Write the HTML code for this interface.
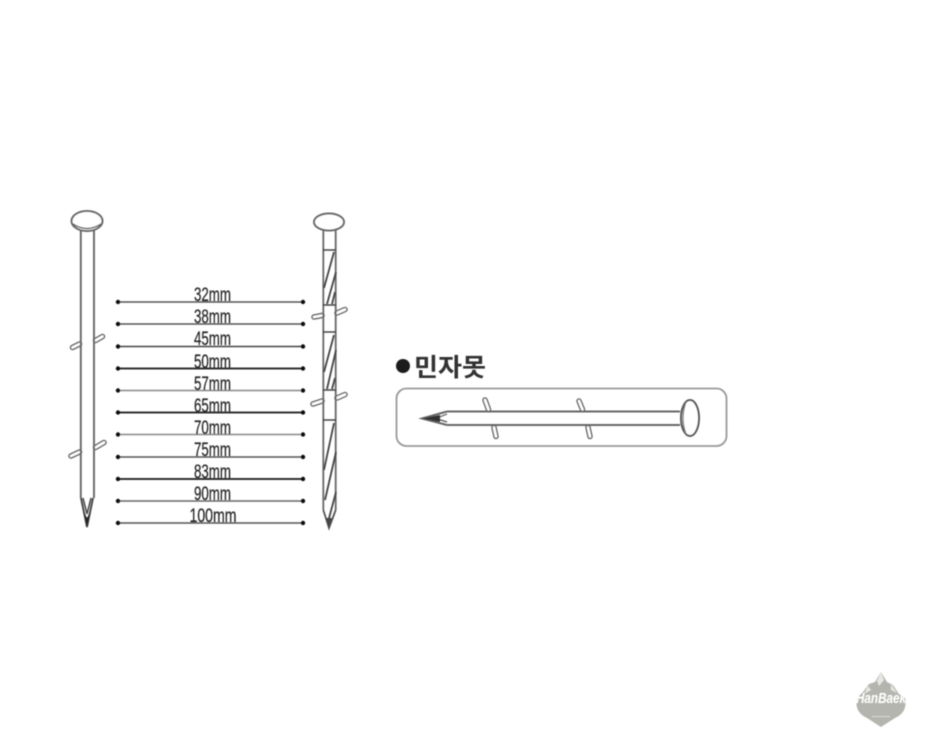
<!DOCTYPE html>
<html><head><meta charset="utf-8"><style>
html,body{margin:0;padding:0;background:#fff;width:941px;height:750px;overflow:hidden}
svg{display:block}
text{font-family:"Liberation Sans","Noto Sans CJK KR",sans-serif}
</style></head><body>
<svg width="941" height="750" viewBox="0 0 941 750" xmlns="http://www.w3.org/2000/svg">
<defs><filter id="b" x="-5%" y="-5%" width="110%" height="110%"><feGaussianBlur stdDeviation="0.6"/></filter></defs>
<rect width="941" height="750" fill="#fff"/>
<g filter="url(#b)">
<!-- barbs, drawn under the shafts -->
<g fill="none" stroke-linecap="round">
<g stroke="#666" stroke-width="5.5">
<path d="M72.5 347.5L79.5 344M95.5 340.5L102.5 336.5M71 456L79.5 452M95.5 447.5L104 442.5"/>
<path d="M314 317L322 315.5M337 313L345 309.5M313 404L322 401M337 398L345 394.5"/>
<path d="M485 400L488.5 409.5M494 427.5L496 436.5M579 401L582.5 409.5M588 427.5L590 436.5"/>
</g>
<g stroke="#fff" stroke-width="2.6">
<path d="M72.5 347.5L79.5 344M95.5 340.5L102.5 336.5M71 456L79.5 452M95.5 447.5L104 442.5"/>
<path d="M314 317L322 315.5M337 313L345 309.5M313 404L322 401M337 398L345 394.5"/>
<path d="M485 400L488.5 409.5M494 427.5L496 436.5M579 401L582.5 409.5M588 427.5L590 436.5"/>
</g>
</g>
<!-- left nail -->
<g fill="none" stroke="#666" stroke-width="1.9">
<path d="M80.8 230V498M94 230V498"/>
<ellipse cx="87" cy="221" rx="15.5" ry="10" fill="#fff" stroke="#666" stroke-width="2"/>
<path d="M73 224Q87 233 101 224" stroke-width="1.5"/>
<path d="M81 498L87 527L93 498" stroke="#444"/>
<path d="M83 498L87 514L91 498" stroke="#444" stroke-width="1.5"/>
</g>
<path d="M84 512L87 527L90 512L87 518Z" fill="#222"/>
<!-- right nail -->
<g fill="none" stroke="#666" stroke-width="1.8">
<path d="M323.3 230V510M335.7 230V510"/>
<ellipse cx="329" cy="222" rx="15" ry="8.5" fill="#fff" stroke-width="2"/>
<path d="M323.3 510L329 528L335.7 510" stroke="#555"/>
<g stroke="#444">
<path d="M323 250H336M323 305H336M323 332H336M323 390H336M323 420H336" stroke-width="1.5"/>
<path d="M334 252L324 288M336 272L327 304M332 304L335 292M334 335L324 372M336 350L327 389M332 389L335 378M334 423L324 470M336 452L325 500M336 492L328 522" stroke-width="1.8"/>
</g>
</g>
<path d="M326 518L329 528L332 518Z" fill="#444"/>
<!-- lines -->
<g fill="none" stroke="#555" stroke-width="1.6">
<path d="M118 302H303"/><path d="M118 324H303"/><path d="M118 346.5H303" stroke="#444"/>
<path d="M118 368.5H303" stroke="#333" stroke-width="1.9"/><path d="M118 390.5H303" stroke="#888"/>
<path d="M118 412.5H303" stroke="#333" stroke-width="1.9"/><path d="M118 434.5H303" stroke="#888"/>
<path d="M118 457H303"/><path d="M118 479H303" stroke="#333" stroke-width="1.9"/>
<path d="M118 501H303" stroke="#666"/><path d="M118 523H303" stroke="#555"/>
</g>
<g fill="#111">
<circle cx="118" cy="302" r="2.2"/><circle cx="303" cy="302" r="2.2"/>
<circle cx="118" cy="324" r="2.2"/><circle cx="303" cy="324" r="2.2"/>
<circle cx="118" cy="346.5" r="2.2"/><circle cx="303" cy="346.5" r="2.2"/>
<circle cx="118" cy="368.5" r="2.2"/><circle cx="303" cy="368.5" r="2.2"/>
<circle cx="118" cy="390.5" r="2.2"/><circle cx="303" cy="390.5" r="2.2"/>
<circle cx="118" cy="412.5" r="2.2"/><circle cx="303" cy="412.5" r="2.2"/>
<circle cx="118" cy="434.5" r="2.2"/><circle cx="303" cy="434.5" r="2.2"/>
<circle cx="118" cy="457" r="2.2"/><circle cx="303" cy="457" r="2.2"/>
<circle cx="118" cy="479" r="2.2"/><circle cx="303" cy="479" r="2.2"/>
<circle cx="118" cy="501" r="2.2"/><circle cx="303" cy="501" r="2.2"/>
<circle cx="118" cy="523" r="2.2"/><circle cx="303" cy="523" r="2.2"/>
</g>
<g font-size="19" fill="#222" stroke="#333" stroke-width="0.25" text-anchor="middle">
<text x="212.5" y="301" textLength="37" lengthAdjust="spacingAndGlyphs">32mm</text>
<text x="212.5" y="323" textLength="37" lengthAdjust="spacingAndGlyphs">38mm</text>
<text x="212.5" y="345" textLength="37" lengthAdjust="spacingAndGlyphs">45mm</text>
<text x="212.5" y="368" textLength="37" lengthAdjust="spacingAndGlyphs">50mm</text>
<text x="212.5" y="390" textLength="37" lengthAdjust="spacingAndGlyphs">57mm</text>
<text x="212.5" y="412" textLength="37" lengthAdjust="spacingAndGlyphs">65mm</text>
<text x="212.5" y="434" textLength="37" lengthAdjust="spacingAndGlyphs">70mm</text>
<text x="212.5" y="456" textLength="37" lengthAdjust="spacingAndGlyphs">75mm</text>
<text x="212.5" y="478" textLength="37" lengthAdjust="spacingAndGlyphs">83mm</text>
<text x="212.5" y="500" textLength="37" lengthAdjust="spacingAndGlyphs">90mm</text>
<text x="213" y="522" textLength="47" lengthAdjust="spacingAndGlyphs">100mm</text>
</g>
<!-- right panel -->
<circle cx="403" cy="366" r="7" fill="#1a1a1a"/>
<text x="414" y="376" font-size="25" font-weight="bold" fill="#333" textLength="72" lengthAdjust="spacingAndGlyphs">민자못</text>
<rect x="396.5" y="388.5" width="330" height="57.5" rx="10" fill="none" stroke="#999" stroke-width="1.8"/>
<g fill="none" stroke="#666" stroke-width="2">
<path d="M447 411.5H680M447 425H680"/>
<path d="M447 411.5L422 418.5L447 425"/>
<path d="M447 414L436 418.5L447 422" stroke="#555" stroke-width="1.2"/>
<ellipse cx="690" cy="418" rx="9" ry="18" fill="#fff" stroke="#555"/>
<path d="M686 402Q680 418 686 434" stroke="#777" stroke-width="1.3"/>
</g>
<path d="M422 418.5L440 415L440 422Z" fill="#333"/>
</g>
<!-- logo -->
<g filter="url(#b)">
<path d="M881 672L887 682L893 685L899 694L905 698Q908 712 895 718L881 727L867 718Q854 712 857 698L863 692L869 684L875 682Z" fill="#b4b5ae"/>
<path d="M881 672L884 680L879 686L877 681ZM891 684L897 693L891 690ZM868 686L864 694L871 690Z" fill="#e6e6e2"/>
<text x="881" y="703" font-family="Liberation Serif" font-size="15" font-style="italic" font-weight="bold" fill="#fff" text-anchor="middle" textLength="50" lengthAdjust="spacingAndGlyphs">HanBaek</text>
<rect x="872" y="716" width="18" height="1" fill="#d8d8d4"/>
</g>
</svg>
</body></html>
